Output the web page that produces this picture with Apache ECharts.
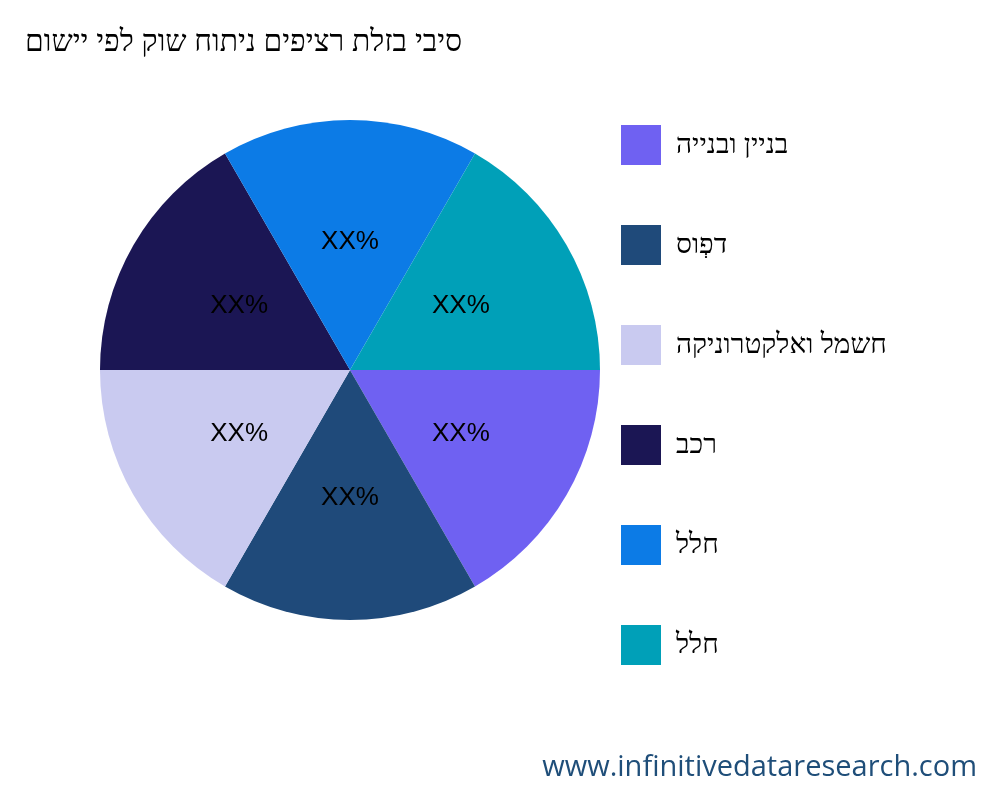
<!DOCTYPE html>
<html><head><meta charset="utf-8">
<script src="https://cdn.jsdelivr.net/npm/echarts@6/dist/echarts.min.js"></script>
<style>html,body{margin:0;padding:0;background:#fff}#c{width:1000px;height:800px}</style>
</head><body><div id="c"></div>
<script>
const titleText = "סיבי בזלת רציפים ניתוח שוק לפי יישום";
const categories = ["בניין ובנייה", "דפְוס", "חשמל ואלקטרוניקה", "רכב", "חלל", "חלל "];
const values = [1, 1, 1, 1, 1, 1];
const colors = ["#6f61f2", "#1f4a7a", "#c9caf0", "#1b1654", "#0c7be6", "#00a0b8"];
const labelText = "XX%";
const chart = echarts.init(document.getElementById('c'));
chart.setOption({
  animation: false,
  title: [{ text: titleText, left: 20, top: 22, textStyle: { fontFamily: 'Noto Sans', fontSize: 30, fontWeight: 'normal', color: '#000' } },
          { text: 'www.infinitivedataresearch.com', right: 18, top: 748, textStyle: { fontFamily: 'Open Sans', fontSize: 29, fontWeight: 'normal', color: '#1f4e79' } }],
  legend: { orient: 'vertical', left: 616, top: 120, itemWidth: 40, itemHeight: 40, itemGap: 60, icon: 'rect',
    textStyle: { fontFamily: 'Noto Sans', fontSize: 28, color: '#000', padding: [0, 0, 0, 10] },
    data: categories },
  series: [{ type: 'pie', center: [350, 370], radius: [0, 250], startAngle: 0, clockwise: true,
    label: { position: 'inner', formatter: labelText, fontFamily: 'Liberation Sans', fontSize: 26, color: '#000' },
    labelLine: { show: false },
    data: categories.map((c, i) => ({ name: c, value: values[i], itemStyle: { color: colors[i] } })) }]
});
</script></body></html>
